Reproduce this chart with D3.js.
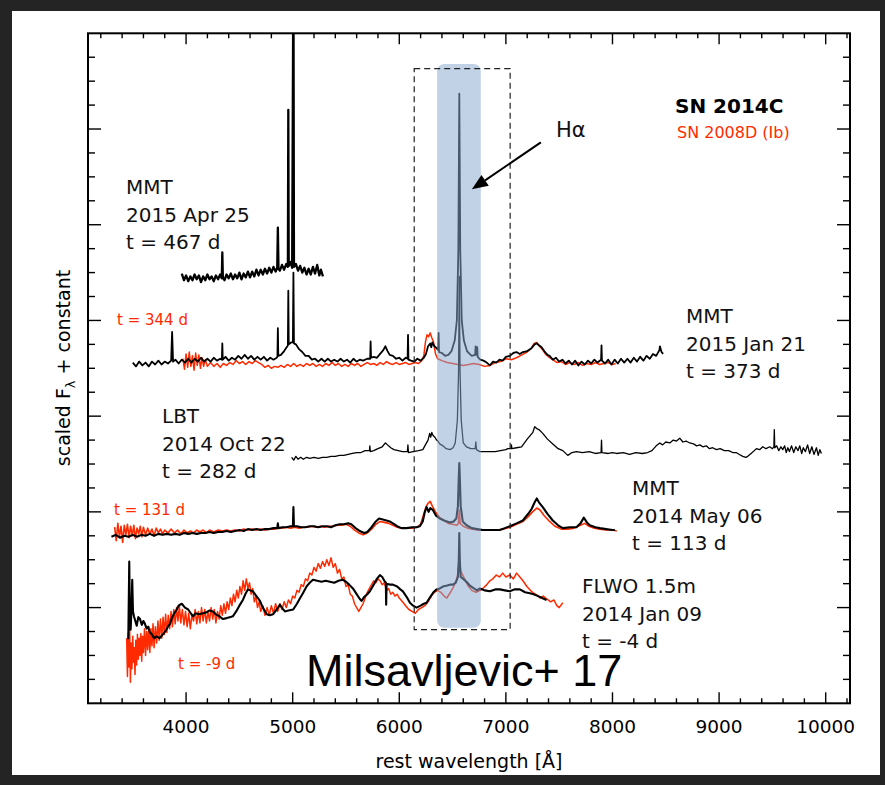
<!DOCTYPE html>
<html>
<head>
<meta charset="utf-8">
<script src="https://cdn.jsdelivr.net/npm/d3@7"></script>
<style>
  body { margin: 0; background: #242424; }
  svg { display: block; }
</style>
</head>
<body>
<div id="chart"></div>
<script>
"use strict";

// ---- data: rest wavelength [A], scaled flux (arbitrary units, 100 = one major tick) ----
const xTickLabels = [4000, 5000, 6000, 7000, 8000, 9000, 10000];

// constants added to each epoch
const off467 = 440, off373 = 355, off282 = 256, off113 = 176, offM4 = 108;

// SN 2014C  MMT 2015 Apr 25, t = 467 d
const sn14c_467 = [[3960,9],[3980,2],[4000,7],[4020,1],[4040,6],[4060,2],[4080,8],[4100,3],[4120,7],[4140,0],[4160,6],[4180,2],[4200,8],[4220,3],[4240,6],[4260,1],[4280,7],[4300,3],[4320,8],[4335,4],[4340,31],[4345,5],[4360,2],[4380,8],[4400,4],[4420,9],[4440,3],[4460,8],[4480,4],[4500,10],[4520,3],[4540,9],[4560,5],[4580,11],[4600,5],[4620,11],[4640,6],[4660,13],[4680,7],[4700,13],[4720,8],[4740,14],[4760,9],[4780,15],[4800,10],[4820,16],[4840,11],[4855,15],[4861,57],[4867,14],[4880,12],[4900,18],[4920,13],[4940,19],[4955,16],[4959,180],[4963,17],[4980,21],[4995,15],[5007,340],[5012,16],[5030,19],[5050,12],[5070,17],[5090,10],[5110,15],[5130,8],[5150,14],[5170,8],[5190,16],[5210,9],[5230,18],[5250,7],[5265,13],[5284,6]];

// SN 2014C  MMT 2015 Jan 21, t = 373 d
const sn14c_373 = [[3500,1],[3530,-3],[3560,2],[3590,-2],[3620,1],[3650,-3],[3680,2],[3710,-1],[3740,3],[3770,-1],[3800,2],[3830,0],[3860,3],[3869,33],[3878,2],[3900,4],[3930,0],[3960,4],[3990,1],[4020,5],[4050,1],[4080,5],[4110,2],[4140,6],[4170,2],[4200,5],[4230,2],[4260,6],[4290,3],[4320,5],[4336,4],[4340,21],[4344,4],[4370,7],[4400,3],[4430,6],[4460,4],[4490,8],[4520,5],[4550,9],[4580,5],[4610,8],[4640,4],[4670,7],[4700,4],[4730,7],[4760,3],[4790,6],[4820,4],[4850,6],[4857,7],[4861,37],[4865,8],[4890,9],[4920,13],[4950,18],[4955,19],[4959,76],[4963,20],[4985,22],[5002,22],[5007,95],[5012,21],[5030,20],[5060,15],[5090,12],[5120,8],[5150,8],[5180,4],[5210,5],[5240,2],[5270,5],[5300,2],[5330,5],[5360,2],[5390,4],[5420,2],[5450,5],[5480,2],[5510,4],[5540,1],[5570,5],[5600,2],[5630,4],[5660,3],[5700,5],[5727,5],[5731,23],[5735,6],[5760,7],[5790,6],[5820,10],[5850,14],[5870,18],[5890,13],[5910,9],[5940,8],[5970,5],[6000,6],[6030,3],[6060,6],[6078,5],[6082,30],[6086,4],[6110,3],[6140,2],[6170,5],[6200,3],[6230,6],[6250,10],[6270,18],[6290,21],[6300,17],[6310,22],[6330,18],[6350,16],[6365,14],[6369,32],[6373,12],[6400,11],[6430,8],[6460,9],[6490,13],[6520,24],[6540,45],[6554,118],[6563,282],[6572,118],[6586,45],[6606,24],[6635,13],[6660,10],[6680,8],[6712,9],[6716,18],[6720,9],[6731,17],[6735,7],[6760,4],[6790,3],[6820,1],[6850,-2],[6880,2],[6910,1],[6940,4],[6970,3],[7000,7],[7037,8],[7070,11],[7100,12],[7130,10],[7160,12],[7200,13],[7240,16],[7270,20],[7290,21],[7310,19],[7335,17],[7360,13],[7390,9],[7410,8],[7440,4],[7470,6],[7500,2],[7530,4],[7560,0],[7590,3],[7620,-1],[7650,3],[7680,-2],[7710,2],[7740,-1],[7770,3],[7800,0],[7830,4],[7860,1],[7893,4],[7897,19],[7901,3],[7930,0],[7960,4],[7990,-1],[8020,4],[8050,0],[8080,5],[8110,1],[8140,5],[8170,1],[8200,6],[8230,2],[8260,7],[8290,3],[8320,8],[8350,5],[8380,10],[8410,8],[8440,14],[8445,18],[8460,12],[8475,10]];

// SN 2008D (Ib), t = 344 d
const sn08d_344 = [[3970,5],[3985,-6],[4000,10],[4015,-4],[4030,12],[4045,-3],[4060,8],[4075,-7],[4090,11],[4105,-2],[4120,9],[4135,-5],[4150,6],[4165,-3],[4180,4],[4200,-3],[4230,1],[4260,-3],[4290,0],[4320,-4],[4350,0],[4380,-2],[4410,1],[4440,-1],[4470,3],[4500,0],[4530,2],[4560,-1],[4590,2],[4620,0],[4650,3],[4680,1],[4710,-1],[4740,-4],[4770,-2],[4800,-5],[4830,-3],[4860,-4],[4890,-2],[4920,-4],[4950,-1],[4980,-3],[5010,0],[5040,-3],[5070,-1],[5100,-3],[5130,0],[5160,-2],[5190,0],[5220,-3],[5250,-1],[5280,-3],[5310,0],[5340,-2],[5370,1],[5400,-2],[5430,0],[5460,-3],[5490,-1],[5520,-3],[5550,0],[5580,-2],[5610,0],[5640,-3],[5670,-1],[5700,1],[5730,-1],[5760,0],[5790,-2],[5820,1],[5850,-1],[5880,2],[5910,0],[5940,-1],[5970,1],[6000,-1],[6030,0],[6060,1],[6090,-1],[6120,0],[6150,1],[6180,0],[6210,3],[6230,8],[6245,22],[6260,30],[6275,28],[6290,32],[6305,27],[6320,23],[6340,10],[6360,5],[6400,3],[6450,1],[6500,0],[6550,-1],[6600,-2],[6650,-1],[6700,0],[6750,-1],[6800,-3],[6850,-2],[6900,1],[6950,2],[7000,5],[7050,4],[7100,6],[7150,9],[7200,12],[7240,16],[7265,21],[7290,22],[7315,18],[7340,15],[7370,10],[7400,7],[7440,4],[7480,1],[7520,2],[7560,-1],[7600,1],[7640,-1],[7680,1],[7720,-2],[7760,0],[7800,-1],[7840,1],[7880,-1],[7920,0],[7960,1],[8000,-1],[8030,0]];

// SN 2014C  LBT 2014 Oct 22, t = 282 d
const sn14c_282 = [[4990,1],[5010,-2],[5030,2],[5050,-1],[5075,1],[5100,-1],[5130,1],[5160,0],[5200,1],[5240,0],[5280,1],[5320,1],[5360,2],[5400,2],[5440,3],[5480,3],[5520,4],[5560,5],[5600,6],[5640,6],[5680,8],[5720,8],[5724,13],[5728,7],[5760,8],[5800,10],[5840,12],[5870,16],[5890,14],[5920,11],[5950,9],[5990,8],[6030,7],[6076,7],[6081,14],[6086,6],[6130,7],[6180,8],[6221,9],[6250,15],[6270,19],[6285,26],[6295,22],[6305,27],[6315,24],[6334,22],[6350,19],[6362,18],[6380,15],[6409,13],[6440,10],[6475,9],[6505,11],[6525,16],[6545,40],[6556,90],[6563,190],[6570,90],[6581,40],[6600,16],[6630,12],[6671,10],[6712,10],[6718,17],[6724,9],[6756,7],[6800,7],[6854,7],[6900,7],[6950,8],[7000,9],[7018,10],[7048,10],[7052,14],[7056,10],[7100,11],[7147,12],[7200,20],[7253,27],[7270,33],[7290,31],[7310,30],[7346,26],[7390,20],[7440,15],[7490,10],[7534,8],[7581,3],[7620,6],[7662,7],[7720,6],[7780,7],[7840,5],[7893,6],[7897,19],[7901,6],[7960,5],[8000,6],[8038,5],[8100,6],[8160,4],[8220,6],[8280,5],[8330,6],[8370,8],[8410,13],[8444,16],[8470,14],[8500,17],[8538,16],[8570,19],[8600,18],[8631,21],[8660,17],[8690,18],[8725,16],[8760,15],[8790,13],[8820,14],[8847,12],[8880,13],[8910,10],[8940,11],[8975,9],[9010,10],[9050,8],[9090,8],[9128,6],[9160,6],[9190,4],[9222,2],[9250,1],[9269,2],[9300,5],[9330,8],[9350,10],[9380,9],[9410,12],[9440,10],[9475,12],[9500,10],[9514,12],[9518,30],[9522,11],[9540,13],[9560,8],[9580,12],[9597,9],[9615,13],[9630,6],[9645,11],[9660,7],[9680,13],[9700,6],[9720,12],[9740,8],[9757,13],[9775,5],[9790,11],[9810,7],[9830,14],[9850,5],[9870,12],[9890,4],[9913,11],[9930,3],[9945,9],[9960,5]];

// SN 2014C  MMT 2014 May 06, t = 113 d
const sn14c_113 = [[3300,-2],[3340,0],[3380,-3],[3420,-1],[3460,-2],[3500,0],[3540,-2],[3580,0],[3620,-1],[3660,1],[3700,-1],[3740,1],[3780,0],[3820,1],[3860,0],[3900,1],[3940,0],[3980,2],[4020,1],[4060,2],[4100,1],[4140,2],[4180,2],[4220,3],[4260,2],[4300,3],[4340,3],[4380,4],[4420,3],[4460,4],[4500,5],[4540,4],[4580,6],[4620,5],[4660,6],[4700,5],[4740,6],[4780,6],[4820,7],[4855,7],[4861,12],[4867,7],[4900,8],[4940,8],[4980,9],[5002,9],[5007,29],[5012,9],[5040,9],[5080,8],[5120,8],[5160,9],[5200,9],[5240,8],[5280,9],[5320,9],[5360,8],[5400,10],[5440,11],[5480,11],[5520,12],[5550,11],[5590,7],[5630,4],[5670,2],[5700,3],[5740,8],[5780,14],[5810,17],[5846,16],[5880,15],[5910,14],[5940,12],[5980,9],[6020,7],[6068,7],[6120,8],[6160,8],[6193,9],[6220,14],[6240,24],[6256,29],[6275,24],[6290,28],[6315,26],[6345,20],[6381,17],[6420,15],[6475,13],[6510,14],[6535,17],[6550,30],[6558,60],[6563,75],[6568,60],[6576,30],[6595,14],[6631,10],[6680,7],[6730,6],[6784,5],[6850,5],[6900,5],[6943,5],[6990,7],[7037,9],[7100,12],[7159,15],[7210,22],[7241,27],[7270,34],[7290,38],[7310,34],[7346,29],[7390,22],[7440,15],[7490,10],[7534,7],[7600,8],[7662,8],[7700,12],[7731,18],[7760,13],[7787,10],[7840,8],[7881,7],[7940,6],[8000,5],[8022,5]];

// SN 2008D (Ib), t = 131 d
const sn08d_131 = [[3330,8],[3345,-6],[3360,12],[3375,-2],[3390,9],[3405,-8],[3420,10],[3435,0],[3450,11],[3465,-3],[3480,9],[3495,-1],[3510,10],[3525,-4],[3540,7],[3555,1],[3570,9],[3585,-2],[3600,8],[3620,0],[3640,7],[3660,1],[3680,6],[3700,-1],[3720,7],[3740,2],[3760,6],[3780,1],[3800,5],[3830,2],[3860,6],[3890,2],[3920,5],[3950,1],[3980,5],[4010,2],[4040,4],[4070,2],[4100,5],[4130,3],[4160,5],[4190,2],[4220,5],[4260,3],[4300,5],[4340,4],[4380,5],[4420,4],[4460,5],[4500,4],[4540,6],[4580,5],[4620,6],[4660,5],[4700,6],[4740,5],[4780,6],[4820,6],[4860,7],[4900,7],[4940,8],[4980,7],[5020,8],[5060,7],[5100,8],[5140,8],[5180,9],[5220,8],[5260,9],[5300,8],[5340,9],[5380,9],[5420,10],[5460,10],[5500,11],[5540,9],[5580,5],[5620,2],[5660,0],[5700,2],[5740,6],[5780,11],[5820,14],[5860,13],[5900,12],[5940,10],[5980,8],[6020,7],[6070,7],[6120,7],[6170,8],[6200,11],[6225,20],[6250,29],[6270,33],[6290,35],[6310,30],[6340,24],[6380,18],[6420,15],[6460,12],[6500,11],[6540,10],[6555,12],[6563,26],[6571,12],[6600,9],[6640,7],[6690,6],[6740,5],[6800,5],[6860,5],[6920,5],[6980,6],[7040,8],[7100,11],[7160,14],[7210,19],[7250,24],[7290,28],[7320,26],[7360,20],[7410,14],[7460,9],[7520,6],[7580,6],[7640,7],[7700,10],[7740,12],[7780,9],[7830,7],[7880,6],[7940,5],[8000,5],[8040,4]];

// SN 2014C  FLWO 1.5m 2014 Jan 09, t = -4 d
const sn14c_m4 = [[3458,-41],[3467,40],[3474,-30],[3480,-31],[3488,-10],[3495,21],[3502,-12],[3511,-17],[3524,-22],[3537,-27],[3552,-18],[3568,-20],[3585,-26],[3600,-22],[3614,-25],[3630,-30],[3645,-28],[3661,-34],[3680,-36],[3700,-40],[3724,-38],[3750,-40],[3783,-36],[3810,-32],[3830,-28],[3849,-25],[3870,-18],[3890,-14],[3912,-10],[3930,-6],[3943,-5],[3960,-4],[3990,-8],[4020,-10],[4050,-15],[4065,-17],[4090,-14],[4120,-15],[4158,-14],[4190,-13],[4220,-11],[4252,-12],[4280,-15],[4310,-17],[4346,-20],[4380,-19],[4410,-18],[4440,-17],[4470,-12],[4500,-6],[4533,0],[4560,7],[4580,11],[4600,10],[4627,9],[4660,4],[4693,-1],[4720,-8],[4756,-15],[4785,-16],[4815,-15],[4850,-10],[4880,-5],[4905,-9],[4927,-12],[4960,-11],[5005,-10],[5040,-4],[5070,2],[5096,7],[5130,14],[5160,18],[5190,21],[5230,20],[5270,19],[5310,20],[5349,19],[5390,18],[5430,20],[5471,21],[5500,19],[5530,16],[5565,12],[5600,6],[5630,1],[5646,-1],[5670,3],[5700,6],[5724,9],[5760,16],[5790,22],[5818,26],[5840,24],[5860,20],[5874,18],[5877,-5],[5881,17],[5910,16],[5940,16],[5980,14],[6010,11],[6034,9],[6070,3],[6100,-3],[6130,-6],[6162,-8],[6200,-6],[6230,-4],[6256,-3],[6290,3],[6320,8],[6350,11],[6380,12],[6409,14],[6450,15],[6480,16],[6503,16],[6530,18],[6550,24],[6558,40],[6563,70],[6568,40],[6576,24],[6600,22],[6630,19],[6662,15],[6700,12],[6730,10],[6756,12],[6800,10],[6850,9],[6900,11],[6943,11],[6990,10],[7037,9],[7080,11],[7131,11],[7180,8],[7225,7],[7260,6],[7303,4],[7340,2],[7381,0]];

// SN 2008D (Ib), t = -9 d
const sn08d_m9 = [[3443,-40],[3450,-80],[3457,-35],[3464,-70],[3471,-30],[3478,-86],[3485,-45],[3492,-72],[3500,-38],[3507,-65],[3514,-50],[3521,-78],[3528,-42],[3536,-68],[3544,-36],[3552,-62],[3560,-40],[3568,-58],[3576,-35],[3584,-64],[3592,-38],[3600,-55],[3610,-30],[3620,-58],[3630,-33],[3640,-52],[3650,-28],[3660,-55],[3670,-30],[3680,-48],[3690,-25],[3700,-50],[3712,-28],[3724,-45],[3736,-22],[3748,-42],[3760,-20],[3772,-40],[3784,-18],[3796,-36],[3808,-15],[3820,-34],[3833,-16],[3846,-30],[3859,-12],[3872,-28],[3885,-10],[3898,-25],[3911,-8],[3924,-22],[3937,-6],[3950,-24],[3965,-10],[3980,-26],[3995,-12],[4010,-28],[4025,-14],[4040,-30],[4055,-16],[4070,-22],[4085,-10],[4100,-25],[4115,-12],[4130,-24],[4145,-8],[4160,-22],[4175,-10],[4190,-24],[4205,-12],[4220,-22],[4235,-8],[4250,-20],[4265,-10],[4280,-24],[4295,-12],[4310,-20],[4325,-6],[4340,-16],[4355,-4],[4370,-14],[4385,-2],[4400,-10],[4415,2],[4430,-6],[4445,6],[4460,-2],[4475,10],[4490,2],[4505,14],[4520,6],[4535,20],[4550,10],[4565,22],[4580,12],[4595,18],[4610,6],[4625,12],[4640,-2],[4655,4],[4670,-8],[4685,-2],[4700,-12],[4720,-6],[4740,-16],[4760,-8],[4780,-16],[4800,-6],[4820,-14],[4840,-4],[4860,-12],[4880,-4],[4900,-10],[4920,-2],[4940,-8],[4960,0],[4980,-4],[5000,4],[5020,2],[5040,10],[5060,8],[5080,16],[5100,14],[5120,22],[5140,20],[5160,28],[5180,26],[5200,34],[5220,30],[5240,38],[5260,33],[5280,40],[5300,35],[5320,42],[5340,36],[5360,44],[5380,34],[5400,38],[5420,28],[5440,32],[5460,22],[5480,24],[5500,14],[5520,16],[5540,6],[5560,4],[5580,-4],[5600,-8],[5620,-12],[5640,-8],[5660,-4],[5680,2],[5700,8],[5720,12],[5740,16],[5760,20],[5780,18],[5800,22],[5820,20],[5840,16],[5860,18],[5880,10],[5900,12],[5920,6],[5940,8],[5960,4],[5980,6],[6000,2],[6030,-2],[6060,-6],[6090,-10],[6120,-12],[6150,-14],[6180,-10],[6210,-8],[6240,-6],[6270,-2],[6300,4],[6330,8],[6360,10],[6390,8],[6420,4],[6446,2],[6480,8],[6510,14],[6540,22],[6550,28],[6558,40],[6563,50],[6568,40],[6576,30],[6596,26],[6620,20],[6650,14],[6680,10],[6720,8],[6760,10],[6784,12],[6821,16],[6850,20],[6878,22],[6910,26],[6940,24],[6970,28],[7000,24],[7037,26],[7070,22],[7100,28],[7131,24],[7160,20],[7197,14],[7230,10],[7260,7],[7291,5],[7320,2],[7350,4],[7384,1],[7420,-2],[7450,0],[7478,-6],[7500,-8],[7534,-3]];

// annotation regions (wavelength / flux units)
const hAlphaBand = [6355, 6765];
const hAlphaBandFlux = [79, 668];
const dashedBox = [6140, 7040];
const dashedBoxFlux = [77, 663];
const arrowFrom = [7328, 586];
const arrowTo = [6681, 537];

// ---- layout ----
const W = 885, H = 785;
const plot = { left: 88, right: 850, top: 33.3, bottom: 703.3 };
const RED = "#ff2a00";
const FONT = "'DejaVu Sans', Verdana, sans-serif";

const svg = d3.select("#chart").append("svg")
  .attr("width", W).attr("height", H);

svg.append("rect").attr("x", 12).attr("y", 11)
  .attr("width", 868).attr("height", 764).attr("fill", "#fff");

const x = d3.scaleLinear().domain([3080, 10228]).range([plot.left, plot.right]);
const y = d3.scaleLinear().domain([0, 700]).range([plot.bottom, plot.top]);

svg.append("clipPath").attr("id", "clip").append("rect")
  .attr("x", plot.left).attr("y", plot.top)
  .attr("width", plot.right - plot.left).attr("height", plot.bottom - plot.top);

const spectra = [
  { d: sn14c_467, off: off467, c: "#000", w: 2.3 },
  { d: sn08d_344, off: off373, c: RED, w: 1.5 },
  { d: sn14c_373, off: off373, c: "#000", w: 1.8 },
  { d: sn14c_282, off: off282, c: "#000", w: 1.3 },
  { d: sn08d_131, off: off113, c: RED, w: 1.6 },
  { d: sn14c_113, off: off113, c: "#000", w: 2.1 },
  { d: sn08d_m9, off: offM4, c: RED, w: 1.5 },
  { d: sn14c_m4, off: offM4, c: "#000", w: 2.1 }
];

const g = svg.append("g").attr("clip-path", "url(#clip)");
spectra.forEach(s => {
  const line = d3.line().x(p => x(p[0])).y(p => y(s.off + p[1]));
  g.append("path").datum(s.d)
    .attr("d", line)
    .attr("fill", "none")
    .attr("stroke", s.c)
    .attr("stroke-width", s.w)
    .attr("stroke-linejoin", "round");
});

// H-alpha band, semi-transparent on top of the spectra
svg.append("rect")
  .attr("x", x(hAlphaBand[0])).attr("y", y(hAlphaBandFlux[1]))
  .attr("width", x(hAlphaBand[1]) - x(hAlphaBand[0]))
  .attr("height", y(hAlphaBandFlux[0]) - y(hAlphaBandFlux[1]))
  .attr("rx", 7)
  .attr("fill", "#88a9d1").attr("opacity", 0.52);

svg.append("rect")
  .attr("x", x(dashedBox[0])).attr("y", y(dashedBoxFlux[1]))
  .attr("width", x(dashedBox[1]) - x(dashedBox[0]))
  .attr("height", y(dashedBoxFlux[0]) - y(dashedBoxFlux[1]))
  .attr("fill", "none").attr("stroke", "#222")
  .attr("stroke-width", 1.2).attr("stroke-dasharray", "6,4");

// arrow to H-alpha
const p1 = [x(arrowFrom[0]), y(arrowFrom[1])];
const p2 = [x(arrowTo[0]), y(arrowTo[1])];
const ang = Math.atan2(p2[1] - p1[1], p2[0] - p1[0]);
const hl = 16, hw = 6.5;
const hb = [p2[0] - hl * Math.cos(ang), p2[1] - hl * Math.sin(ang)];
svg.append("line")
  .attr("x1", p1[0]).attr("y1", p1[1]).attr("x2", hb[0]).attr("y2", hb[1])
  .attr("stroke", "#000").attr("stroke-width", 2);
svg.append("polygon")
  .attr("points", [p2,
    [hb[0] + hw * Math.sin(ang), hb[1] - hw * Math.cos(ang)],
    [hb[0] - hw * Math.sin(ang), hb[1] + hw * Math.cos(ang)]].map(p => p.join(",")).join(" "))
  .attr("fill", "#000");

// ---- axes: ticks on all four sides, pointing in ----
const xMinor = d3.range(3200, 10201, 200);
const yMinor = d3.range(25, 700, 25);
const ax = svg.append("g").attr("stroke", "#000").attr("stroke-width", 1.4);
xMinor.forEach(v => {
  const L = v % 1000 === 0 ? 11 : 5;
  ax.append("line").attr("x1", x(v)).attr("x2", x(v)).attr("y1", plot.bottom).attr("y2", plot.bottom - L);
  ax.append("line").attr("x1", x(v)).attr("x2", x(v)).attr("y1", plot.top).attr("y2", plot.top + L);
});
yMinor.forEach(v => {
  const L = v % 100 === 0 ? 13 : 7;
  ax.append("line").attr("y1", y(v)).attr("y2", y(v)).attr("x1", plot.left).attr("x2", plot.left + L);
  ax.append("line").attr("y1", y(v)).attr("y2", y(v)).attr("x1", plot.right).attr("x2", plot.right - L);
});
svg.append("rect")
  .attr("x", plot.left).attr("y", plot.top)
  .attr("width", plot.right - plot.left).attr("height", plot.bottom - plot.top)
  .attr("fill", "none").attr("stroke", "#000").attr("stroke-width", 2);

svg.selectAll("text.xtick").data(xTickLabels).enter().append("text")
  .attr("class", "xtick")
  .attr("x", d => x(d)).attr("y", 733)
  .attr("text-anchor", "middle")
  .style("font-family", FONT).style("font-size", "18.5px")
  .text(d => d);

svg.append("text")
  .attr("x", 469).attr("y", 768).attr("text-anchor", "middle")
  .style("font-family", FONT).style("font-size", "19px")
  .text("rest wavelength [Å]");

const yl = svg.append("text")
  .attr("transform", "translate(70,368) rotate(-90)")
  .attr("text-anchor", "middle")
  .style("font-family", FONT).style("font-size", "19px");
yl.append("tspan").text("scaled F");
yl.append("tspan").attr("dy", 5).style("font-size", "13px").text("λ");
yl.append("tspan").attr("dy", -5).text(" + constant");

// ---- labels ----
const blockLabels = [
  { x: 126, y: 194, lines: ["MMT", "2015 Apr 25", "t = 467 d"] },
  { x: 686, y: 323, lines: ["MMT", "2015 Jan 21", "t = 373 d"] },
  { x: 162, y: 423, lines: ["LBT", "2014 Oct 22", "t = 282 d"] },
  { x: 632, y: 495, lines: ["MMT", "2014 May 06", "t = 113 d"] },
  { x: 582, y: 593, lines: ["FLWO 1.5m", "2014 Jan 09", "t = -4 d"] }
];
blockLabels.forEach(b => {
  b.lines.forEach((t, i) => {
    svg.append("text").attr("x", b.x).attr("y", b.y + i * 27.5)
      .style("font-family", FONT).style("font-size", "20px")
      .attr("fill", "#111").text(t);
  });
});

const redLabels = [
  { x: 117, y: 325, t: "t = 344 d" },
  { x: 114, y: 515, t: "t = 131 d" },
  { x: 178, y: 669, t: "t = -9 d" }
];
redLabels.forEach(r => {
  svg.append("text").attr("x", r.x).attr("y", r.y)
    .style("font-family", FONT).style("font-size", "15px")
    .attr("fill", RED).text(r.t);
});

svg.append("text").attr("x", 675).attr("y", 113)
  .style("font-family", FONT).style("font-size", "20px").style("font-weight", "bold")
  .text("SN 2014C");
svg.append("text").attr("x", 677).attr("y", 138)
  .style("font-family", FONT).style("font-size", "16px").attr("fill", RED)
  .text("SN 2008D (Ib)");
svg.append("text").attr("x", 556).attr("y", 137)
  .style("font-family", FONT).style("font-size", "21px").attr("fill", "#111")
  .text("Hα");

svg.append("text").attr("x", 306).attr("y", 686)
  .style("font-family", "'Liberation Sans', Arial, sans-serif").style("font-size", "45px")
  .text("Milsavljevic+ 17");
</script>
</body>
</html>
